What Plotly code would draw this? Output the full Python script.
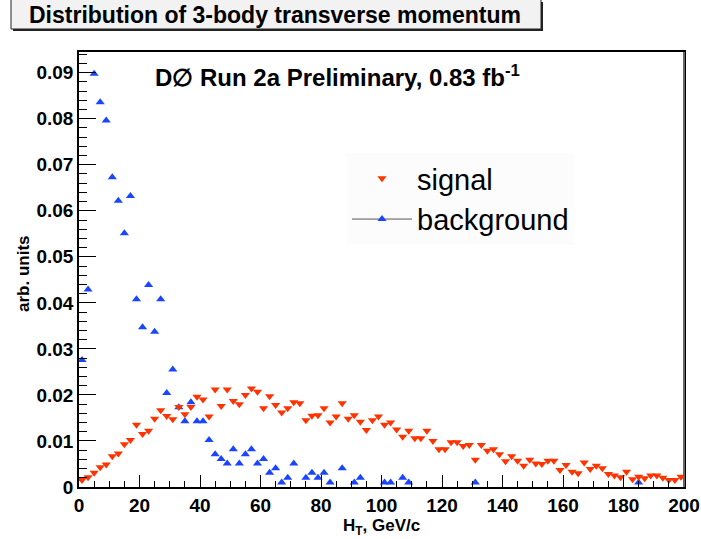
import plotly.graph_objects as go

# ---- data (bin centres, 2 GeV/c bins) ----
signal_x = list(range(1, 200, 2))
signal_y = [
    0.0015, 0.0021, 0.0031, 0.0043, 0.0049, 0.0067, 0.0073, 0.0093, 0.0102, 0.0135,
    0.0115, 0.0122, 0.0148, 0.0167, 0.0154, 0.0147, 0.0174, 0.0158, 0.0174, 0.0196,
    0.0190, 0.0153, 0.0212, 0.0176, 0.0212, 0.0187, 0.0180, 0.0200, 0.0214, 0.0207,
    0.0171, 0.0197, 0.0178, 0.0162, 0.0171, 0.0184, 0.0182, 0.0145, 0.0155, 0.0156,
    0.0171, 0.0140, 0.0153, 0.0182, 0.0148, 0.0156, 0.0142, 0.0124, 0.0145, 0.0153,
    0.0135, 0.0140, 0.0125, 0.0109, 0.0122, 0.0106, 0.0106, 0.0122, 0.0100, 0.0082,
    0.0082, 0.0097, 0.0097, 0.0089, 0.0091, 0.0059, 0.0091, 0.0079, 0.0082, 0.0071,
    0.0056, 0.0067, 0.0057, 0.0046, 0.0059, 0.0051, 0.0050, 0.0057, 0.0057, 0.0037,
    0.0048, 0.0033, 0.0030, 0.0053, 0.0039, 0.0046, 0.0041, 0.0028, 0.0025, 0.0021,
    0.0033, 0.0017, 0.0022, 0.0019, 0.0025, 0.0025, 0.0020, 0.0015, 0.0015, 0.0022,
]

background_x = [1, 3, 5, 7, 9, 11, 13, 15, 17, 19, 21, 23, 25, 27, 29, 31, 33, 35, 37, 39,
                41, 43, 45, 47, 49, 51, 53, 55, 57, 59, 61, 63, 65, 67, 69, 71, 75, 77, 79, 81,
                83, 87, 91, 93, 101, 103, 107, 109, 131, 185]
background_y = [0.0276, 0.0429, 0.0898, 0.0836, 0.0796, 0.0673, 0.0622, 0.0551, 0.0632, 0.0408,
                0.0347, 0.0439, 0.0337, 0.0408, 0.0204, 0.0255, 0.0173, 0.0143, 0.0184, 0.0143,
                0.0143, 0.0102, 0.0071, 0.0061, 0.0051, 0.0082, 0.0051, 0.0071, 0.0082, 0.0051,
                0.0061, 0.0031, 0.0041, 0.0010, 0.0020, 0.0051, 0.0020, 0.0031, 0.0020, 0.0031,
                0.0010, 0.0041, 0.0010, 0.0020, 0.0010, 0.0010, 0.0020, 0.0010, 0.0010, 0.0010]

y_ticks = [0, 0.01, 0.02, 0.03, 0.04, 0.05, 0.06, 0.07, 0.08, 0.09]
y_ticklabels = ["0", "0.01", "0.02", "0.03", "0.04", "0.05", "0.06", "0.07", "0.08", "0.09"]
x_ticks = [0, 20, 40, 60, 80, 100, 120, 140, 160, 180, 200]

RED = "#ff3300"
BLUE = "#1a45ff"
FONT = "Liberation Sans, Arial, Helvetica, sans-serif"

W, H = 701, 539
L, R, T, B = 79, 17, 52, 52
PW, PH = W - L - R, H - T - B


def px(xp):
    return (xp - L) / PW


def py(yp):
    return (H - B - yp) / PH


fig = go.Figure()

fig.add_trace(go.Scatter(
    x=background_x, y=background_y, mode="markers", name="background",
    marker=dict(symbol="triangle-up", size=8, color=BLUE, line=dict(width=0)),
    showlegend=False, cliponaxis=True,
))
fig.add_trace(go.Scatter(
    x=signal_x, y=signal_y, mode="markers", name="signal",
    marker=dict(symbol="triangle-down", size=8, color=RED, line=dict(width=0)),
    showlegend=True, legendrank=1, cliponaxis=True,
))
fig.add_trace(go.Scatter(
    x=[None], y=[None], mode="lines+markers", name="background",
    marker=dict(symbol="triangle-up", size=8, color=BLUE, line=dict(width=0)),
    line=dict(color="#555555", width=1),
    showlegend=True, legendrank=2,
))

axis_common = dict(
    showline=True, linecolor="black", linewidth=1.5, mirror=True,
    showgrid=False, zeroline=False, ticks="inside", tickcolor="black",
    tickwidth=1, automargin=False,
    tickfont=dict(family=FONT, size=19, color="black", weight="bold"),
)

fig.update_xaxes(
    range=[0, 200], tickmode="array", tickvals=x_ticks,
    ticklen=12,
    minor=dict(dtick=5, ticklen=6, ticks="inside", tickcolor="black", tickwidth=1),
    **axis_common,
)
fig.update_yaxes(
    range=[0, 0.0945], tickmode="array", tickvals=y_ticks, ticktext=y_ticklabels,
    ticklen=17,
    minor=dict(dtick=0.002, ticklen=8, ticks="inside", tickcolor="black", tickwidth=1),
    **axis_common,
)

shapes = [
    # title box shadow
    dict(type="rect", xref="paper", yref="paper", x0=px(13), x1=px(543), y0=py(31), y1=py(2),
         fillcolor="#222222", line=dict(width=0), layer="above"),
    # title box
    dict(type="rect", xref="paper", yref="paper", x0=px(11), x1=px(541), y0=py(29), y1=py(-2),
         fillcolor="#f2f2f2", line=dict(color="#222222", width=1), layer="above"),
    # grey right frame edge
    dict(type="line", xref="paper", yref="paper", x0=1, x1=1, y0=0, y1=1,
         line=dict(color="#666666", width=2), layer="above"),
]

annotations = [
    dict(text="<b>Distribution of 3-body transverse momentum</b>", xref="paper", yref="paper",
         x=px(275), y=py(15), xanchor="center", yanchor="middle", showarrow=False,
         font=dict(family=FONT, size=23, color="black")),
    dict(text="<b>D∅ Run 2a Preliminary, 0.83 fb<sup>-1</sup></b>", xref="paper", yref="paper",
         x=px(153), y=py(76), xanchor="left", yanchor="middle", showarrow=False,
         font=dict(family=FONT, size=24, color="black")),
    dict(text="<b>arb. units</b>", xref="paper", yref="paper", textangle=-90,
         x=px(23), y=py(274), xanchor="center", yanchor="middle", showarrow=False,
         font=dict(family=FONT, size=17, color="black")),
    dict(text="<b>H<sub>T</sub>, GeV/c</b>", xref="paper", yref="paper",
         x=px(381), y=py(527), xanchor="center", yanchor="middle", showarrow=False,
         font=dict(family=FONT, size=17, color="black")),
]

fig.update_layout(
    width=W, height=H,
    margin=dict(l=L, r=R, t=T, b=B, pad=0, autoexpand=False),
    paper_bgcolor="white", plot_bgcolor="white",
    font=dict(family=FONT, color="black"),
    shapes=shapes, annotations=annotations,
    legend=dict(
        x=px(347), y=py(153), xanchor="left", yanchor="top",
        bgcolor="#fcfcfc", borderwidth=0,
        font=dict(family=FONT, size=29, color="black"),
        itemwidth=60, tracegroupgap=0,
    ),
)

fig.write_html("out.html")
